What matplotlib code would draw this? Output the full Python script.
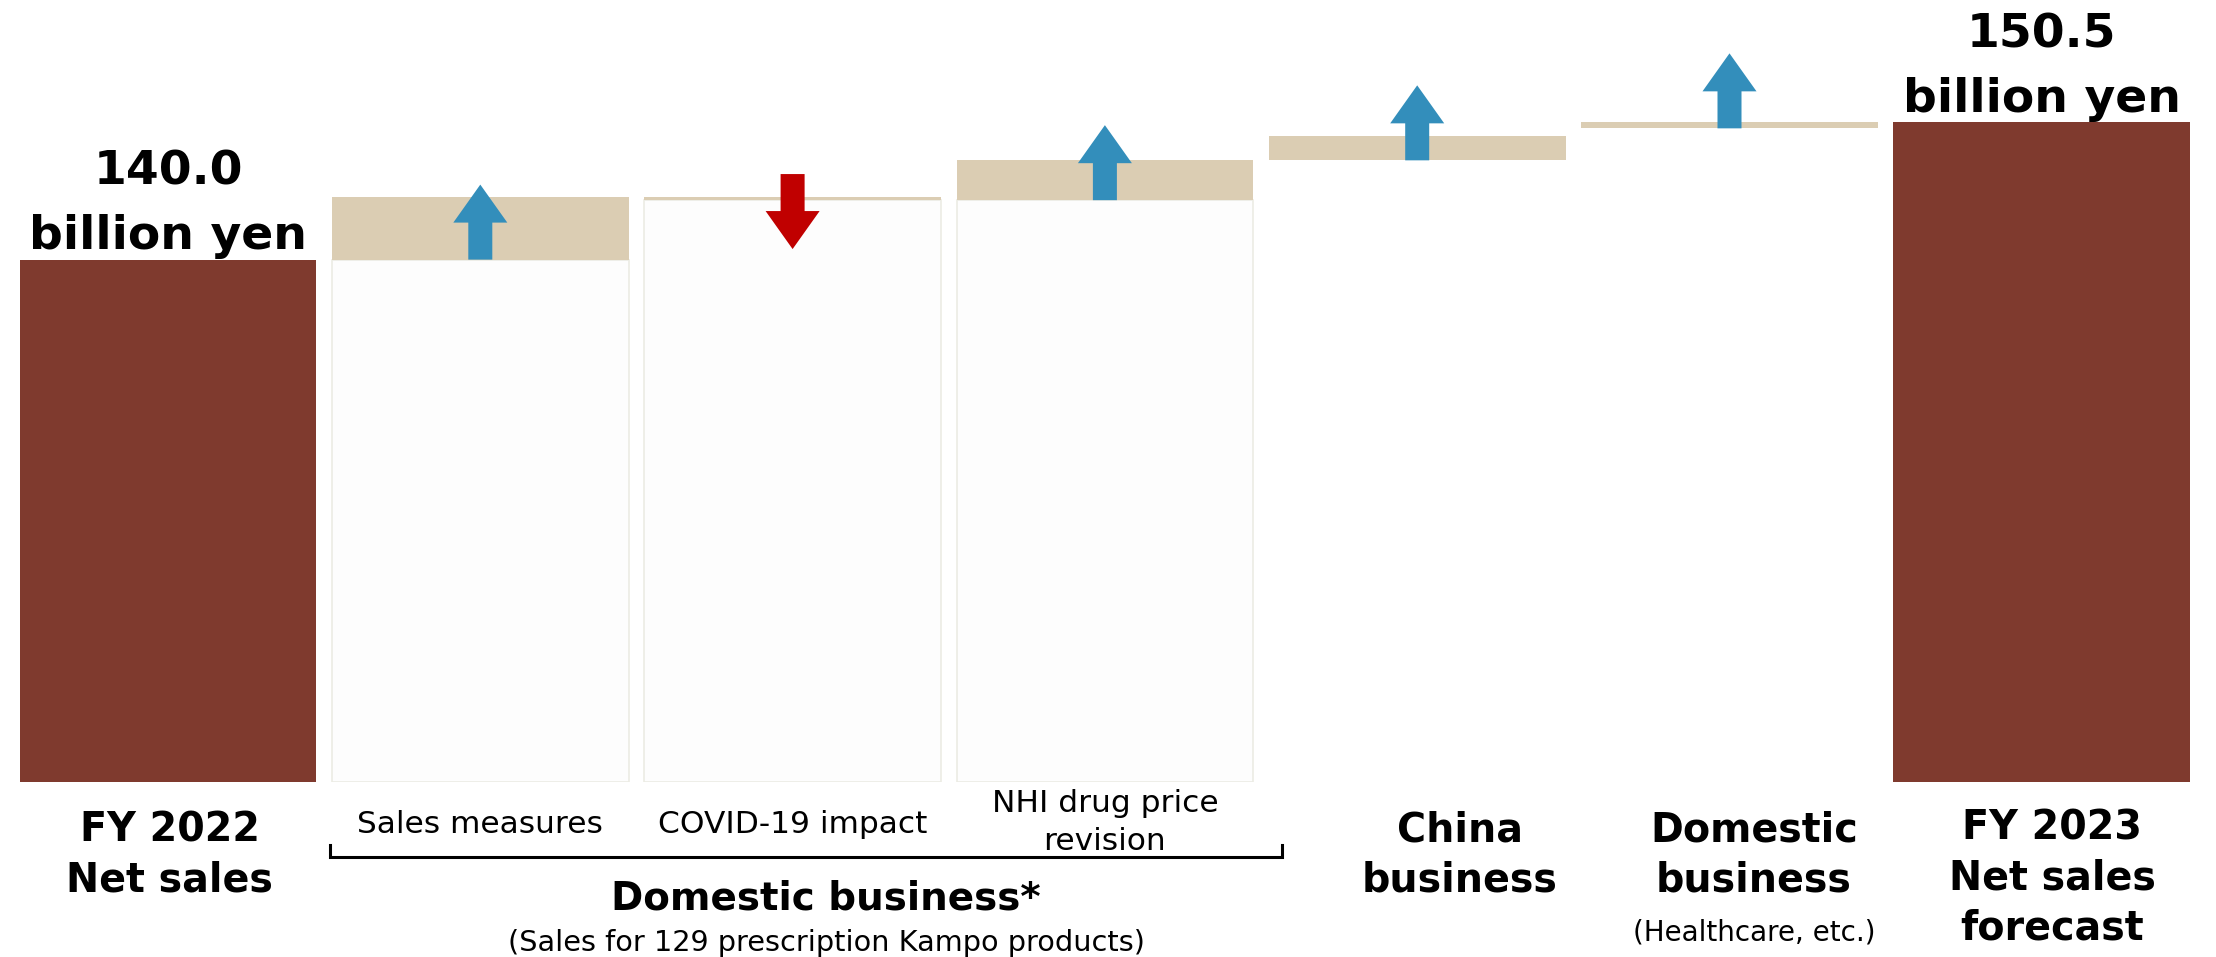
import matplotlib.pyplot as plt
import matplotlib.transforms as mtransforms
from matplotlib.patches import FancyArrow

plt.rcParams['font.family'] = ['DejaVu Sans']

# data (billion yen), bars drawn as floating segments
steps = ['FY 2022', 'Sales measures', 'COVID-19 impact', 'NHI drug price revision',
         'China business', 'Domestic business (Healthcare)', 'FY 2023']
bottoms = [100.0, 140.0, 144.55, 144.55, 147.6, 150.05, 100.0]
tops = [140.0, 144.8, 144.8, 147.6, 149.45, 150.5, 150.5]
kinds = ['total', 'up', 'down', 'up', 'up', 'up', 'total']
value_labels = ['140.0\nbillion yen', '', '', '', '', '', '150.5\nbillion yen']
domestic_group = [1, 2, 3]

brown = '#7F3A2E'
tan = '#DBCDB3'
blue = '#338EBB'
red = '#C00000'

W, H = 2216, 957
fig = plt.figure(figsize=(W / 100, H / 100), dpi=100)
ax = fig.add_axes([0, (H - 782) / H, 1, 782 / H])
ax.set_xlim(-168 / 312.3, (W - 168) / 312.3)
ax.set_ylim(100, 100 + 782 / 13.06)
ax.axis('off')

x = list(range(len(steps)))
bw = 0.95

# faint base bars under the domestic business items
for i in domestic_group:
    ax.bar(x[i], bottoms[i] - 100, bottom=100, width=bw, color='#FDFDFD',
           edgecolor='#ECECE4', linewidth=1.2, zorder=1)

for i in x:
    col = brown if kinds[i] == 'total' else tan
    ax.bar(x[i], tops[i] - bottoms[i], bottom=bottoms[i], width=bw, color=col,
           linewidth=0, zorder=2)
    if value_labels[i]:
        ax.text(x[i], tops[i] + 0.05, value_labels[i], ha='center', va='bottom',
                fontsize=34, fontweight='bold', linespacing=1.55, zorder=4)

# arrows
alen, hlen, hw, sw = 75 / 13.06, 38 / 13.06, 54 / 312.3, 24 / 312.3
for i in x:
    if kinds[i] == 'up':
        ax.add_patch(FancyArrow(x[i], bottoms[i], 0, alen, width=sw, head_width=hw,
                                head_length=hlen, length_includes_head=True,
                                color=blue, linewidth=0, zorder=3))
    elif kinds[i] == 'down':
        y0 = tops[i] + 1.75
        ax.add_patch(FancyArrow(x[i], y0, 0, -alen, width=sw, head_width=hw,
                                head_length=hlen, length_includes_head=True,
                                color=red, linewidth=0, zorder=3))

# labels under the bars (y given as pixel row of the last line's baseline)
tr = mtransforms.blended_transform_factory(ax.transData, fig.transFigure)


def fy(px):
    return 1 - px / H


bold_labels = [(0.006, 'FY 2022\nNet sales', 892), (4.137, 'China\nbusiness', 892),
               (5.078, 'Domestic\nbusiness', 892),
               (6.033, 'FY 2023\nNet sales\nforecast', 940)]
for xx, s, py in bold_labels:
    ax.text(xx, fy(py), s, transform=tr, ha='center', va='baseline', fontsize=28.5,
            fontweight='bold', linespacing=1.33)

ax.text(1, fy(833), 'Sales measures', transform=tr, ha='center', va='baseline', fontsize=22.5)
ax.text(2, fy(833), 'COVID-19 impact', transform=tr, ha='center', va='baseline', fontsize=22.5)
ax.text(3, fy(850), 'NHI drug price\nrevision', transform=tr, ha='center', va='baseline',
        fontsize=22.5, linespacing=1.38)

# bracket for domestic business group
bx0, bx1 = 0.52, 3.567
ax.plot([bx0, bx0, bx1, bx1], [fy(845), fy(857), fy(857), fy(845)], transform=tr,
        color='black', linewidth=2.2, solid_joinstyle='miter', clip_on=False)

ax.text(2.107, fy(910), 'Domestic business*', transform=tr, ha='center', va='baseline',
        fontsize=28, fontweight='bold')
ax.text(2.107, fy(951), '(Sales for 129 prescription Kampo products)', transform=tr,
        ha='center', va='baseline', fontsize=20.7)
ax.text(5.078, fy(940), '(Healthcare, etc.)', transform=tr, ha='center', va='baseline',
        fontsize=20)

fig.savefig('out.png', dpi=100)
